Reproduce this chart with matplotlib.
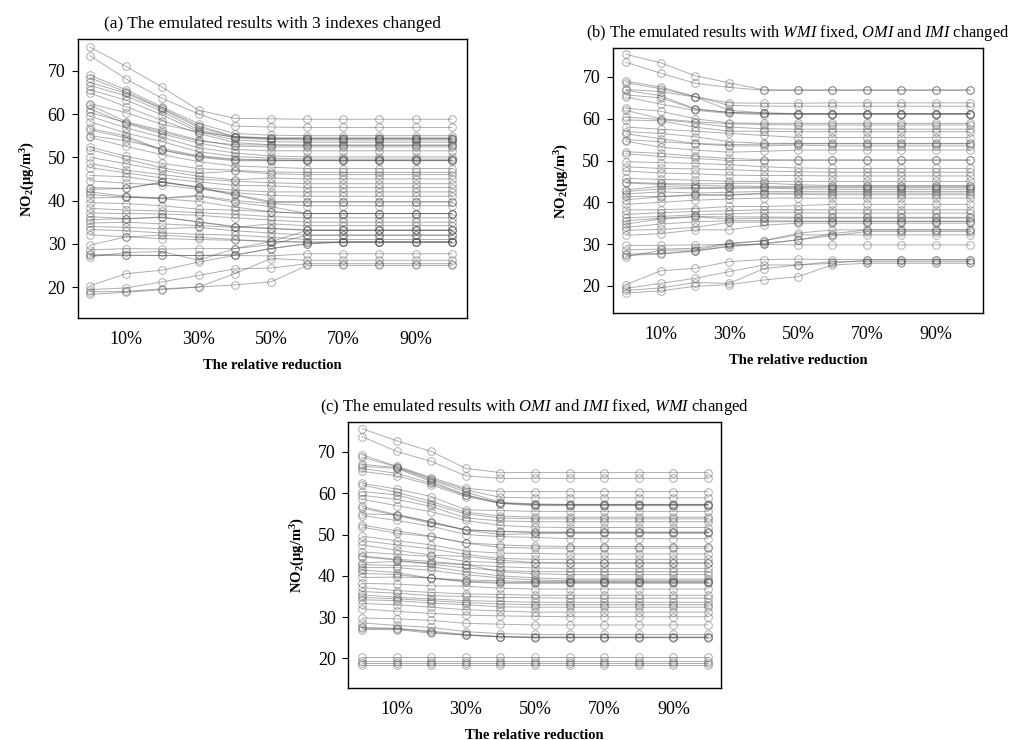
import numpy as np
import matplotlib.pyplot as plt

plt.rcParams['font.family'] = ['Liberation Serif', 'DejaVu Serif']
plt.rcParams['mathtext.fontset'] = 'custom'
plt.rcParams['mathtext.rm'] = 'Liberation Serif'
plt.rcParams['mathtext.it'] = 'Liberation Serif:italic'
plt.rcParams['mathtext.bf'] = 'Liberation Serif:bold'

# relative reduction (%) and labelled ticks
reduction = [0, 10, 20, 30, 40, 50, 60, 70, 80, 90, 100]
tick_pct = [10, 30, 50, 70, 90]

# (a) 3 indexes changed
no2_a = [
    [75.5, 71.0, 66.2, 60.9, 59.0, 58.9, 58.8, 58.8, 58.8, 58.8, 58.8],
    [73.5, 68.1, 63.6, 60.0, 57.2, 57.0, 56.9, 56.9, 56.9, 56.9, 56.9],
    [69.0, 65.6, 61.6, 57.8, 55.5, 55.1, 55.0, 55.0, 55.0, 55.0, 55.0],
    [68.4, 65.1, 61.3, 57.3, 54.8, 54.5, 54.5, 54.5, 54.5, 54.5, 54.5],
    [67.3, 64.8, 61.1, 56.9, 54.7, 54.3, 54.3, 54.3, 54.3, 54.3, 54.3],
    [66.6, 64.2, 60.6, 56.3, 54.5, 54.1, 54.0, 54.0, 54.0, 54.0, 54.0],
    [65.6, 63.2, 59.8, 55.9, 54.0, 53.6, 53.5, 53.5, 53.5, 53.5, 53.5],
    [64.9, 61.7, 58.5, 55.5, 53.4, 52.9, 52.8, 52.8, 52.8, 52.8, 52.8],
    [62.4, 60.3, 57.6, 55.9, 54.7, 54.4, 54.3, 54.3, 54.3, 54.3, 54.3],
    [62.1, 58.2, 56.2, 54.0, 52.6, 52.4, 52.4, 52.4, 52.4, 52.4, 52.4],
    [61.2, 57.8, 55.4, 53.3, 51.8, 51.5, 51.5, 51.5, 51.5, 51.5, 51.5],
    [60.4, 58.0, 55.8, 53.8, 52.9, 52.8, 52.8, 52.8, 52.8, 52.8, 52.8],
    [59.5, 56.8, 54.6, 52.2, 51.0, 50.3, 50.1, 50.1, 50.1, 50.1, 50.1],
    [58.2, 55.6, 53.6, 51.3, 50.2, 49.8, 49.6, 49.6, 49.6, 49.6, 49.6],
    [56.7, 54.9, 51.7, 50.2, 49.4, 49.3, 49.3, 49.3, 49.3, 49.3, 49.3],
    [56.3, 54.5, 51.6, 50.0, 49.2, 49.2, 49.2, 49.2, 49.2, 49.2, 49.2],
    [55.0, 53.8, 52.0, 50.4, 49.6, 49.4, 49.3, 49.3, 49.3, 49.3, 49.3],
    [54.6, 52.5, 50.6, 49.0, 48.0, 47.7, 47.4, 47.4, 47.4, 47.4, 47.4],
    [52.4, 50.2, 48.6, 47.4, 47.0, 46.6, 46.5, 46.5, 46.5, 46.5, 46.5],
    [51.8, 49.6, 47.5, 46.3, 46.8, 46.2, 46.0, 46.0, 46.0, 46.0, 46.0],
    [50.0, 48.5, 47.0, 45.6, 44.8, 45.2, 45.0, 45.0, 45.0, 45.0, 45.0],
    [48.6, 47.0, 46.0, 45.0, 44.5, 44.1, 43.9, 43.9, 43.9, 43.9, 43.9],
    [47.6, 46.4, 45.2, 44.3, 43.5, 43.4, 43.0, 43.0, 43.0, 43.0, 43.0],
    [45.8, 45.5, 44.3, 43.1, 42.4, 42.0, 42.0, 42.0, 42.0, 42.0, 42.0],
    [44.6, 44.0, 43.6, 42.6, 41.8, 41.2, 41.0, 41.0, 41.0, 41.0, 41.0],
    [43.0, 42.8, 44.3, 43.1, 41.4, 39.8, 39.7, 39.7, 39.7, 39.7, 39.7],
    [42.6, 42.8, 44.2, 43.0, 41.2, 39.5, 39.7, 39.7, 39.7, 39.7, 39.7],
    [42.0, 41.0, 40.6, 41.2, 40.0, 39.3, 38.8, 38.8, 38.8, 38.8, 38.8],
    [41.4, 40.8, 40.5, 41.0, 39.6, 38.6, 37.0, 37.0, 37.0, 37.0, 37.0],
    [40.6, 40.8, 40.4, 39.8, 38.5, 37.4, 37.0, 37.0, 37.0, 37.0, 37.0],
    [39.5, 39.3, 38.8, 38.0, 37.8, 37.4, 37.0, 37.0, 37.0, 37.0, 37.0],
    [38.2, 37.8, 37.6, 37.2, 36.8, 36.3, 36.0, 36.0, 36.0, 36.0, 36.0],
    [37.1, 37.0, 36.9, 36.6, 36.0, 35.5, 35.0, 35.0, 35.0, 35.0, 35.0],
    [36.3, 35.8, 36.2, 35.0, 33.9, 33.5, 33.1, 33.1, 33.1, 33.1, 33.1],
    [35.6, 35.8, 36.1, 35.1, 34.0, 33.6, 33.2, 33.2, 33.2, 33.2, 33.2],
    [34.8, 35.0, 34.6, 34.2, 33.8, 34.6, 34.2, 34.2, 34.2, 34.2, 34.2],
    [34.0, 33.8, 33.5, 33.8, 33.0, 32.5, 32.0, 32.0, 32.0, 32.0, 32.0],
    [33.3, 33.0, 32.5, 32.2, 32.0, 31.5, 31.0, 31.0, 31.0, 31.0, 31.0],
    [32.1, 31.6, 31.2, 31.0, 30.8, 30.6, 30.4, 30.4, 30.4, 30.4, 30.4],
    [29.7, 31.6, 32.0, 31.5, 31.0, 30.5, 30.4, 30.4, 30.4, 30.4, 30.4],
    [28.6, 28.9, 28.8, 28.9, 28.9, 30.5, 33.1, 33.1, 33.1, 33.1, 33.1],
    [27.6, 27.4, 27.3, 27.3, 27.4, 28.9, 30.0, 30.4, 30.4, 30.4, 30.4],
    [27.3, 27.3, 27.3, 27.3, 27.4, 28.9, 30.0, 30.4, 30.4, 30.4, 30.4],
    [27.0, 28.0, 28.2, 26.2, 28.9, 29.8, 32.0, 32.0, 32.0, 32.0, 32.0],
    [20.3, 23.1, 23.9, 25.8, 27.3, 27.2, 27.7, 27.7, 27.7, 27.7, 27.7],
    [19.4, 19.8, 21.2, 22.7, 24.2, 24.4, 25.4, 25.4, 25.4, 25.4, 25.4],
    [18.9, 19.0, 19.6, 20.0, 23.1, 26.6, 26.2, 26.2, 26.2, 26.2, 26.2],
    [18.3, 18.8, 19.4, 20.0, 20.5, 21.2, 25.0, 25.0, 25.0, 25.0, 25.0],
]

# (b) WMI fixed, OMI and IMI changed
no2_b = [
    [75.4, 73.4, 70.3, 68.6, 66.9, 66.9, 66.9, 66.9, 66.9, 66.9, 66.9],
    [73.5, 70.9, 68.5, 67.5, 66.8, 66.8, 66.8, 66.8, 66.8, 66.8, 66.8],
    [69.0, 67.6, 65.3, 63.8, 63.7, 63.7, 63.8, 63.8, 63.8, 63.8, 63.8],
    [68.6, 67.2, 65.3, 63.2, 63.0, 63.0, 63.0, 63.0, 63.0, 63.0, 63.0],
    [67.0, 66.5, 65.2, 62.0, 61.4, 61.2, 61.2, 61.2, 61.2, 61.2, 61.2],
    [66.8, 65.5, 62.4, 61.5, 61.3, 61.2, 61.2, 61.2, 61.2, 61.2, 61.2],
    [65.7, 65.0, 62.3, 61.5, 61.3, 61.2, 61.2, 61.2, 61.2, 61.2, 61.2],
    [65.2, 63.5, 62.0, 61.3, 61.0, 61.0, 61.0, 61.0, 61.0, 61.0, 61.0],
    [62.5, 61.8, 60.0, 59.0, 58.9, 58.9, 58.9, 58.9, 58.9, 58.9, 58.9],
    [62.0, 60.0, 59.3, 58.8, 58.6, 58.5, 58.5, 58.5, 58.5, 58.5, 58.5],
    [60.4, 59.8, 59.0, 58.0, 57.6, 57.5, 57.5, 57.5, 57.5, 57.5, 57.5],
    [59.7, 59.5, 58.0, 57.0, 57.0, 56.9, 56.9, 56.9, 56.9, 56.9, 56.9],
    [58.0, 57.5, 57.0, 56.5, 56.0, 55.5, 55.5, 55.5, 55.5, 55.5, 55.5],
    [56.9, 56.5, 55.7, 54.5, 54.1, 54.1, 54.1, 54.1, 54.1, 54.1, 54.1],
    [56.4, 55.2, 54.1, 53.8, 53.9, 54.0, 54.0, 54.0, 54.0, 54.0, 54.0],
    [55.0, 54.5, 54.0, 53.5, 53.5, 53.7, 53.5, 53.5, 53.5, 53.5, 53.5],
    [54.6, 53.2, 52.5, 52.0, 52.2, 52.5, 52.5, 52.5, 52.5, 52.5, 52.5],
    [52.1, 51.7, 51.0, 50.5, 50.2, 50.1, 50.1, 50.1, 50.1, 50.1, 50.1],
    [51.6, 51.0, 50.5, 50.0, 50.0, 50.1, 50.1, 50.1, 50.1, 50.1, 50.1],
    [49.7, 49.5, 49.3, 49.0, 48.5, 48.2, 48.1, 48.1, 48.1, 48.1, 48.1],
    [48.5, 48.1, 48.0, 47.8, 47.5, 47.3, 47.2, 47.2, 47.2, 47.2, 47.2],
    [47.5, 47.0, 46.8, 46.5, 46.4, 46.4, 46.3, 46.3, 46.3, 46.3, 46.3],
    [45.7, 45.5, 45.3, 45.0, 45.0, 45.0, 45.0, 45.0, 45.0, 45.0, 45.0],
    [44.8, 44.5, 44.4, 44.5, 44.6, 44.2, 44.0, 44.0, 44.0, 44.0, 44.0],
    [44.6, 44.3, 44.0, 43.9, 43.8, 43.8, 43.8, 43.8, 43.8, 43.8, 43.8],
    [43.0, 43.8, 43.5, 43.6, 43.6, 43.5, 43.5, 43.5, 43.5, 43.5, 43.5],
    [42.6, 43.2, 43.3, 43.3, 43.4, 43.2, 43.1, 43.1, 43.1, 43.1, 43.1],
    [42.0, 42.5, 42.2, 42.4, 42.6, 42.6, 42.6, 42.6, 42.6, 42.6, 42.6],
    [41.4, 41.4, 41.8, 41.8, 42.2, 42.2, 42.2, 42.2, 42.2, 42.2, 42.2],
    [40.6, 41.3, 41.7, 41.7, 42.0, 41.9, 41.8, 41.8, 41.8, 41.8, 41.8],
    [39.5, 40.0, 40.5, 40.8, 41.0, 41.0, 41.0, 41.0, 41.0, 41.0, 41.0],
    [38.2, 38.2, 38.5, 39.0, 39.0, 39.2, 39.5, 39.5, 39.5, 39.5, 39.5],
    [37.1, 37.5, 37.8, 38.0, 38.2, 38.2, 38.2, 38.2, 38.2, 38.2, 38.2],
    [36.3, 36.6, 37.0, 37.2, 37.5, 37.5, 37.4, 37.4, 37.4, 37.4, 37.4],
    [35.6, 36.2, 36.6, 36.5, 36.5, 36.4, 36.4, 36.4, 36.4, 36.4, 36.4],
    [34.8, 36.0, 36.5, 36.0, 36.2, 36.2, 36.2, 36.2, 36.2, 36.2, 36.2],
    [34.0, 34.8, 35.3, 35.6, 35.6, 35.5, 35.5, 35.5, 35.5, 35.5, 35.5],
    [33.3, 33.5, 34.0, 35.2, 35.3, 35.4, 35.4, 35.4, 35.4, 35.4, 35.4],
    [32.1, 32.5, 33.4, 33.4, 34.5, 35.0, 35.0, 35.0, 35.0, 35.0, 35.0],
    [29.7, 29.7, 29.8, 29.9, 29.9, 29.8, 29.8, 29.8, 29.8, 29.8, 29.8],
    [28.6, 28.8, 29.0, 30.2, 30.8, 32.2, 32.2, 32.2, 32.2, 32.2, 32.2],
    [27.6, 27.8, 28.4, 29.5, 30.2, 31.0, 32.5, 33.4, 33.4, 33.4, 33.4],
    [27.3, 27.6, 28.3, 29.4, 30.0, 31.0, 32.0, 33.0, 33.0, 33.0, 33.0],
    [27.0, 28.5, 28.6, 30.0, 30.8, 32.6, 33.4, 33.4, 33.4, 33.4, 33.4],
    [20.3, 23.6, 24.2, 25.8, 26.3, 26.4, 26.3, 26.3, 26.3, 26.3, 26.3],
    [19.4, 20.6, 21.8, 23.4, 25.0, 25.0, 25.8, 25.8, 25.8, 25.8, 25.8],
    [18.9, 19.5, 20.8, 20.6, 24.1, 25.0, 25.4, 26.2, 26.2, 26.2, 26.2],
    [18.3, 18.8, 19.9, 20.3, 21.4, 22.2, 25.0, 25.4, 25.4, 25.4, 25.4],
]

# (c) OMI and IMI fixed, WMI changed
no2_c = [
    [75.6, 72.7, 70.1, 66.0, 65.0, 65.0, 65.0, 65.0, 65.0, 65.0, 65.0],
    [73.7, 70.1, 67.7, 64.2, 63.6, 63.6, 63.6, 63.6, 63.6, 63.6, 63.6],
    [69.3, 66.5, 63.8, 61.2, 60.4, 60.4, 60.4, 60.4, 60.4, 60.4, 60.4],
    [68.7, 66.4, 63.5, 60.8, 59.0, 58.9, 58.9, 58.9, 58.9, 58.9, 58.9],
    [67.0, 66.2, 63.2, 60.3, 57.8, 57.4, 57.3, 57.3, 57.3, 57.3, 57.3],
    [66.5, 66.0, 62.8, 59.6, 57.6, 57.3, 57.2, 57.2, 57.2, 57.2, 57.2],
    [66.0, 64.8, 62.4, 59.5, 57.6, 57.2, 57.2, 57.2, 57.2, 57.2, 57.2],
    [65.3, 64.2, 62.0, 59.2, 57.5, 57.0, 57.0, 57.0, 57.0, 57.0, 57.0],
    [62.4, 61.0, 59.2, 56.0, 55.8, 55.6, 55.6, 55.6, 55.6, 55.6, 55.6],
    [62.0, 60.2, 58.0, 55.4, 54.5, 54.2, 54.2, 54.2, 54.2, 54.2, 54.2],
    [60.4, 59.6, 57.4, 55.0, 54.0, 53.8, 53.8, 53.8, 53.8, 53.8, 53.8],
    [59.5, 58.5, 56.8, 54.0, 53.3, 53.1, 53.1, 53.1, 53.1, 53.1, 53.1],
    [58.5, 57.0, 55.5, 53.4, 52.2, 51.8, 51.7, 51.7, 51.7, 51.7, 51.7],
    [56.8, 54.8, 53.1, 51.1, 50.8, 50.6, 50.6, 50.6, 50.6, 50.6, 50.6],
    [56.4, 54.6, 52.7, 51.2, 50.7, 50.5, 50.5, 50.5, 50.5, 50.5, 50.5],
    [55.0, 54.8, 53.0, 51.0, 50.0, 50.2, 50.3, 50.3, 50.3, 50.3, 50.3],
    [54.6, 53.4, 52.0, 50.0, 49.5, 49.3, 49.0, 49.0, 49.0, 49.0, 49.0],
    [52.3, 50.9, 49.6, 47.9, 46.9, 46.7, 46.7, 46.7, 46.7, 46.7, 46.7],
    [51.8, 50.3, 49.5, 48.0, 47.5, 47.2, 47.1, 47.1, 47.1, 47.1, 47.1],
    [49.6, 48.5, 47.5, 46.0, 45.5, 45.4, 45.3, 45.3, 45.3, 45.3, 45.3],
    [48.5, 47.5, 46.5, 45.2, 44.2, 44.0, 44.0, 44.0, 44.0, 44.0, 44.0],
    [47.5, 46.2, 45.0, 44.7, 43.8, 43.2, 43.1, 43.1, 43.1, 43.1, 43.1],
    [45.8, 45.2, 44.7, 43.5, 43.2, 43.1, 43.1, 43.1, 43.1, 43.1, 43.1],
    [44.8, 44.0, 43.5, 42.7, 42.2, 41.9, 41.8, 41.8, 41.8, 41.8, 41.8],
    [44.6, 43.8, 42.8, 41.9, 41.3, 41.0, 41.0, 41.0, 41.0, 41.0, 41.0],
    [43.1, 43.5, 43.1, 42.7, 41.0, 40.5, 40.3, 40.3, 40.3, 40.3, 40.3],
    [42.7, 42.5, 42.2, 41.0, 40.0, 39.5, 39.2, 39.2, 39.2, 39.2, 39.2],
    [42.0, 42.0, 41.3, 40.3, 39.5, 39.0, 38.8, 38.8, 38.8, 38.8, 38.8],
    [41.4, 40.8, 39.4, 39.0, 38.8, 38.6, 38.6, 38.6, 38.6, 38.6, 38.6],
    [40.6, 40.3, 39.4, 38.7, 38.4, 38.4, 38.4, 38.4, 38.4, 38.4, 38.4],
    [39.6, 39.7, 39.5, 38.5, 38.2, 38.2, 38.2, 38.2, 38.2, 38.2, 38.2],
    [38.2, 38.0, 37.6, 37.5, 37.0, 36.8, 36.8, 36.8, 36.8, 36.8, 36.8],
    [37.2, 36.4, 36.0, 35.6, 35.5, 35.3, 35.3, 35.3, 35.3, 35.3, 35.3],
    [36.2, 35.8, 35.2, 35.0, 34.8, 34.7, 34.6, 34.6, 34.6, 34.6, 34.6],
    [35.4, 34.8, 34.4, 34.0, 33.8, 33.6, 33.6, 33.6, 33.6, 33.6, 33.6],
    [34.8, 34.4, 34.0, 33.5, 33.2, 33.0, 33.0, 33.0, 33.0, 33.0, 33.0],
    [34.2, 34.0, 33.4, 33.0, 32.5, 32.4, 32.4, 32.4, 32.4, 32.4, 32.4],
    [33.3, 33.0, 32.4, 31.8, 31.5, 31.2, 31.2, 31.2, 31.2, 31.2, 31.2],
    [32.0, 31.4, 30.9, 30.5, 30.3, 30.2, 30.1, 30.1, 30.1, 30.1, 30.1],
    [29.8, 29.6, 29.2, 28.5, 28.3, 28.1, 28.1, 28.1, 28.1, 28.1, 28.1],
    [28.6, 28.0, 27.5, 26.5, 26.0, 25.8, 25.8, 25.8, 25.8, 25.8, 25.8],
    [27.5, 27.3, 26.6, 25.8, 25.3, 25.2, 25.2, 25.2, 25.2, 25.2, 25.2],
    [27.3, 27.2, 26.4, 25.6, 25.3, 25.1, 25.1, 25.1, 25.1, 25.1, 25.1],
    [27.0, 27.0, 26.1, 25.7, 25.2, 25.0, 25.0, 25.0, 25.0, 25.0, 25.0],
    [20.3, 20.3, 20.3, 20.3, 20.3, 20.3, 20.3, 20.3, 20.3, 20.3, 20.3],
    [19.5, 19.5, 19.5, 19.5, 19.5, 19.5, 19.5, 19.5, 19.5, 19.5, 19.5],
    [18.9, 18.9, 18.9, 18.9, 18.9, 18.9, 18.9, 18.9, 18.9, 18.9, 18.9],
    [18.3, 18.3, 18.3, 18.3, 18.3, 18.3, 18.3, 18.3, 18.3, 18.3, 18.3],
]

titles = [
    '(a) The emulated results with 3 indexes changed',
    r'(b) The emulated results with $\mathit{WMI}$ fixed, $\mathit{OMI}$ and $\mathit{IMI}$ changed',
    r'(c) The emulated results with $\mathit{OMI}$ and $\mathit{IMI}$ fixed, $\mathit{WMI}$ changed',
]


def draw_panel(ax, rows, title, xlim, ylim, title_size):
    for row in rows:
        ax.plot(reduction, row,
                color='0.3',
                alpha=0.45,
                linewidth=0.7,
                marker='o',
                markersize=5.5,
                markerfacecolor='none',
                markeredgewidth=0.7,
                )
    ax.set_xlim(*xlim)
    ax.set_ylim(*ylim)
    ax.set_xticks(tick_pct)
    ax.set_xticklabels([f'{p}%' for p in tick_pct])
    ax.set_yticks([20, 30, 40, 50, 60, 70])
    ax.tick_params(axis='x', length=0, pad=9, labelsize=13)
    ax.tick_params(axis='y', length=4, pad=5, labelsize=13)
    for s in ax.spines.values():
        s.set_linewidth(1.0)
    ax.set_xlabel('The relative reduction', fontweight='bold', fontsize=10.5, labelpad=8)
    ax.set_ylabel(r'$\mathbf{NO_2(\mu g/m^3)}$', fontsize=10.5, labelpad=8)
    ax.set_title(title, fontsize=title_size, pad=8)


fig = plt.figure(figsize=(10.2, 7.4), dpi=100)

ax_a = fig.add_axes([0.0765, 0.570, 0.381, 0.377])
ax_b = fig.add_axes([0.6007, 0.577, 0.363, 0.358])
ax_c = fig.add_axes([0.3415, 0.070, 0.3654, 0.3595])

draw_panel(ax_a, no2_a, titles[0], (-3.3, 104.1), (12.8, 77.3), 12.5)
draw_panel(ax_b, no2_b, titles[1], (-3.9, 103.8), (13.5, 76.9), 11.8)
draw_panel(ax_c, no2_c, titles[2], (-4.0, 103.8), (12.8, 77.2), 12)

fig.savefig('out.png', dpi=100)
